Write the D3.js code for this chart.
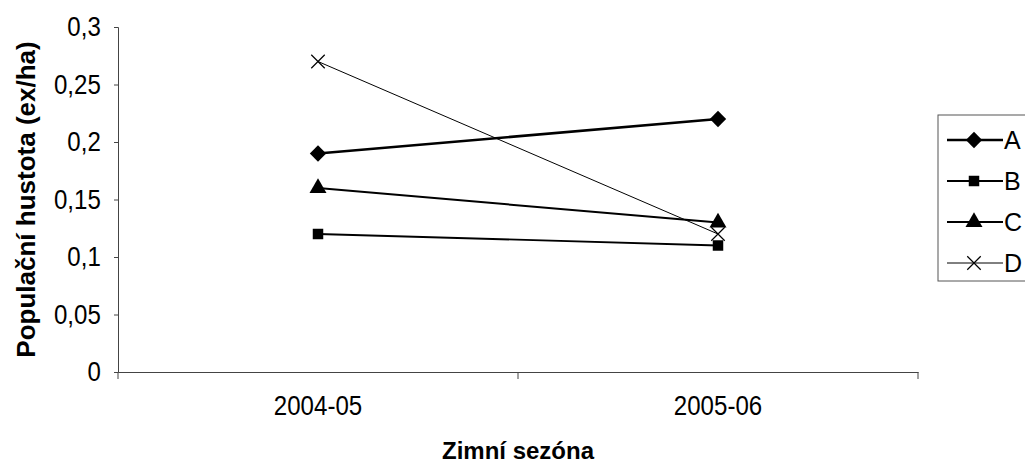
<!DOCTYPE html>
<html>
<head>
<meta charset="utf-8">
<script src="https://cdn.jsdelivr.net/npm/d3@7"></script>
<style>
  body { margin: 0; background: #fff; }
  svg text { font-family: "Liberation Sans", Arial, sans-serif; fill: #000; }
</style>
</head>
<body>
<div class="graphic"></div>
<script>
var seasons = ["2004-05", "2005-06"];
var seriesNames = ["A", "B", "C", "D"];
var valuesA = [0.19, 0.22];
var valuesB = [0.12, 0.11];
var valuesC = [0.16, 0.13];
var valuesD = [0.27, 0.12];
var yTicks = [0, 0.05, 0.1, 0.15, 0.2, 0.25, 0.3];

var series = [
  { name: "A", values: valuesA, symbol: "diamond", width: 2.6 },
  { name: "B", values: valuesB, symbol: "square", width: 1.8 },
  { name: "C", values: valuesC, symbol: "triangle", width: 2 },
  { name: "D", values: valuesD, symbol: "cross", width: 1 }
];

var width = 1025, height = 464;
var margin = { top: 27, right: 107, bottom: 92, left: 118 };

var svg = d3.select(".graphic").append("svg")
  .attr("width", width)
  .attr("height", height);

var x = d3.scaleBand()
  .domain(seasons)
  .range([margin.left, width - margin.right]);

var y = d3.scaleLinear()
  .domain([0, 0.3])
  .range([height - margin.bottom, margin.top]);

var fmt = function(d) { return String(d).replace(".", ","); };

// y axis
var yAxis = svg.append("g")
  .attr("transform", "translate(" + margin.left + ",0)")
  .call(d3.axisLeft(y).tickValues(yTicks).tickFormat(fmt).tickSize(4).tickPadding(16));
yAxis.select(".domain").attr("stroke", "#444");
yAxis.selectAll(".tick line").attr("stroke", "#444");
yAxis.selectAll(".tick text")
  .style("font-size", "28px")
  .attr("transform", "scale(0.86,1)");

// x axis
var x0 = height - margin.bottom;
var xAxis = svg.append("g")
  .attr("transform", "translate(0," + x0 + ")")
  .call(d3.axisBottom(x).tickSize(0).tickPadding(23));
xAxis.select(".domain").attr("stroke", "#444");
xAxis.selectAll(".tick text")
  .style("font-size", "28px")
  .attr("dy", "0.71em")
  .attr("transform", "scale(0.86,1)");

// category edge ticks
var edges = seasons.map(function(s) { return x(s); }).concat([x(seasons[seasons.length - 1]) + x.bandwidth()]);
svg.append("g").selectAll("line")
  .data(edges)
  .join("line")
  .attr("x1", function(d) { return d; })
  .attr("x2", function(d) { return d; })
  .attr("y1", x0)
  .attr("y2", x0 + 7)
  .attr("stroke", "#444");

// axis titles
svg.append("text")
  .attr("x", (margin.left + width - margin.right) / 2)
  .attr("y", 459)
  .attr("text-anchor", "middle")
  .style("font-size", "24px")
  .style("font-weight", "bold")
  .text("Zimní sezóna");

svg.append("text")
  .attr("transform", "translate(35," + (margin.top + x0) / 2 + ") rotate(-90)")
  .attr("text-anchor", "middle")
  .style("font-size", "26px")
  .style("font-weight", "bold")
  .text("Populační hustota (ex/ha)");

var symbolFor = {
  diamond: d3.symbol().type(d3.symbolDiamond2).size(170),
  square: d3.symbol().type(d3.symbolSquare).size(110),
  triangle: d3.symbol().type(d3.symbolTriangle).size(125),
  cross: d3.symbol().type(d3.symbolX).size(120)
};

function drawMarker(g, s) {
  var p = g.append("path").attr("d", symbolFor[s.symbol]());
  if (s.symbol === "cross") {
    p.attr("fill", "none").attr("stroke", "#000").attr("stroke-width", 1.2);
  } else {
    p.attr("fill", "#000");
  }
}

var line = d3.line()
  .x(function(d, i) { return x(seasons[i]) + x.bandwidth() / 2; })
  .y(function(d) { return y(d); });

series.forEach(function(s) {
  svg.append("path")
    .datum(s.values)
    .attr("d", line)
    .attr("fill", "none")
    .attr("stroke", "#000")
    .attr("stroke-width", s.width);
});

series.forEach(function(s) {
  s.values.forEach(function(v, i) {
    var g = svg.append("g")
      .attr("transform", "translate(" + (x(seasons[i]) + x.bandwidth() / 2) + "," + y(v) + ")");
    drawMarker(g, s);
  });
});

// legend
var legend = svg.append("g").attr("transform", "translate(938,115)");
legend.append("rect")
  .attr("width", 120)
  .attr("height", 166)
  .attr("fill", "#fff")
  .attr("stroke", "#555");

series.forEach(function(s, i) {
  var ly = 25 + i * 41;
  var g = legend.append("g").attr("transform", "translate(0," + ly + ")");
  g.append("line")
    .attr("x1", 9).attr("x2", 65)
    .attr("stroke", "#000")
    .attr("stroke-width", s.width);
  var m = g.append("g").attr("transform", "translate(36,0)");
  drawMarker(m, s);
  g.append("text")
    .attr("x", 66)
    .attr("dy", "0.36em")
    .style("font-size", "25px")
    .attr("transform", "scale(1,1)")
    .text(seriesNames[i]);
});
</script>
</body>
</html>
